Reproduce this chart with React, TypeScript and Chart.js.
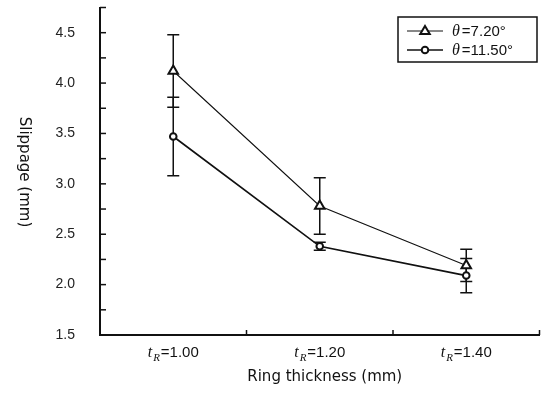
import React, { useEffect, useRef } from "react";
import { Chart, registerables } from "chart.js";

Chart.register(...registerables);

const categories = ["1.00", "1.20", "1.40"];
const seriesNames = ["7.20°", "11.50°"];
const theta720 = [4.12, 2.78, 2.19];
const err720 = [0.36, 0.28, 0.16];
const theta1150 = [3.47, 2.38, 2.09];
const err1150 = [0.39, 0.04, 0.17];
const yMin = 1.5;
const yMax = 4.75;
const yStep = 0.25;
const yTitle = "Slippage (mm)";
const xTitle = "Ring thickness (mm)";

const SANS = "'Liberation Sans', Arial, sans-serif";
const TITLE_FONT = "'DejaVu Sans', sans-serif";
const SERIF_IT = "italic 16px 'Liberation Serif', 'Times New Roman', serif";

function drawMarker(ctx: CanvasRenderingContext2D, kind: string, x: number, y: number) {
  ctx.save();
  ctx.lineWidth = 2;
  ctx.strokeStyle = "#111";
  ctx.fillStyle = "#fff";
  ctx.beginPath();
  if (kind === "triangle") {
    const r = 5;
    ctx.moveTo(x, y - r);
    ctx.lineTo(x + r * 0.95, y + r * 0.6);
    ctx.lineTo(x - r * 0.95, y + r * 0.6);
    ctx.closePath();
  } else {
    ctx.arc(x, y, 3.3, 0, Math.PI * 2);
  }
  ctx.fill();
  ctx.stroke();
  ctx.restore();
}

const decorPlugin = {
  id: "decor",
  beforeDraw(chart: any) {
    const ctx = chart.ctx;
    ctx.save();
    ctx.fillStyle = "#fff";
    ctx.fillRect(0, 0, chart.width, chart.height);
    ctx.restore();
  },
  beforeDatasetsDraw(chart: any) {
    const ctx = chart.ctx;
    const xs = chart.scales.x;
    const ys = chart.scales.y;
    const sets = [
      { v: theta720, e: err720 },
      { v: theta1150, e: err1150 },
    ];
    ctx.save();
    ctx.strokeStyle = "#111";
    ctx.lineWidth = 1.5;
    sets.forEach((s) => {
      s.v.forEach((val, i) => {
        const x = xs.getPixelForValue(i);
        const yt = ys.getPixelForValue(val + s.e[i]);
        const yb = ys.getPixelForValue(val - s.e[i]);
        ctx.beginPath();
        ctx.moveTo(x, yt);
        ctx.lineTo(x, yb);
        ctx.moveTo(x - 6, yt);
        ctx.lineTo(x + 6, yt);
        ctx.moveTo(x - 6, yb);
        ctx.lineTo(x + 6, yb);
        ctx.stroke();
      });
    });
    ctx.restore();
  },
  afterDraw(chart: any) {
    const ctx = chart.ctx;
    const xs = chart.scales.x;
    const ys = chart.scales.y;
    const area = chart.chartArea;
    ctx.save();
    ctx.strokeStyle = "#111";
    ctx.lineWidth = 1.5;
    ys.ticks.forEach((t: any) => {
      const y = ys.getPixelForValue(t.value);
      ctx.beginPath();
      ctx.moveTo(area.left, y);
      ctx.lineTo(area.left + 6, y);
      ctx.stroke();
    });
    for (let i = 1; i <= categories.length; i++) {
      const x = i === categories.length ? area.right : xs.getPixelForValue(i - 0.5);
      ctx.beginPath();
      ctx.moveTo(x, area.bottom);
      ctx.lineTo(x, area.bottom - 5);
      ctx.stroke();
    }
    ctx.fillStyle = "#111";
    ctx.textBaseline = "alphabetic";
    categories.forEach((c, i) => {
      const cx = xs.getPixelForValue(i);
      const base = area.bottom + 22;
      ctx.font = SERIF_IT;
      const wt = ctx.measureText("t").width;
      ctx.font = "italic 11px 'Liberation Serif', serif";
      const wr = ctx.measureText("R").width;
      ctx.font = `15px ${SANS}`;
      const wv = ctx.measureText("=" + c).width;
      const total = wt + 1 + wr + 1 + wv;
      let x = cx - total / 2;
      ctx.textAlign = "left";
      ctx.font = SERIF_IT;
      ctx.fillText("t", x, base);
      x += wt + 1;
      ctx.font = "italic 11px 'Liberation Serif', serif";
      ctx.fillText("R", x, base + 4);
      x += wr + 1;
      ctx.font = `15px ${SANS}`;
      ctx.fillText("=" + c, x, base);
    });
    ctx.font = `15px ${TITLE_FONT}`;
    ctx.textAlign = "center";
    ctx.textBaseline = "middle";
    ctx.fillText(xTitle, (area.left + area.right) / 2 + 5, 377);
    ctx.save();
    ctx.translate(24, 172);
    ctx.rotate(Math.PI / 2);
    ctx.fillText(yTitle, 0, 0);
    ctx.restore();
    const lx = 398, ly = 17, lw = 139, lh = 45;
    ctx.lineWidth = 1.5;
    ctx.strokeRect(lx, ly, lw, lh);
    const kinds = ["triangle", "circle"];
    const widths = [1, 1.6];
    seriesNames.forEach((name, i) => {
      const y = ly + 14 + i * 19;
      ctx.lineWidth = widths[i];
      ctx.beginPath();
      ctx.moveTo(407, y);
      ctx.lineTo(443, y);
      ctx.stroke();
      drawMarker(ctx, kinds[i], 425, y);
      ctx.textAlign = "left";
      ctx.textBaseline = "middle";
      ctx.font = SERIF_IT;
      ctx.fillText("θ", 452, y + 1);
      const wt = ctx.measureText("θ").width;
      ctx.font = `15px ${SANS}`;
      ctx.fillText("=" + name, 452 + wt + 2, y + 1);
    });
    ctx.restore();
  },
};

export default function App() {
  const ref = useRef<HTMLCanvasElement | null>(null);
  useEffect(() => {
    document.body.style.margin = "0";
    const canvas = ref.current!;
    const chart = new Chart(canvas, {
      type: "line",
      data: {
        labels: categories,
        datasets: [
          {
            label: seriesNames[0],
            data: theta720,
            borderColor: "#111",
            borderWidth: 1.1,
            pointStyle: "triangle",
            pointRadius: 5.5,
            pointBorderWidth: 2,
            pointBackgroundColor: "#fff",
            pointBorderColor: "#111",
            tension: 0,
          },
          {
            label: seriesNames[1],
            data: theta1150,
            borderColor: "#111",
            borderWidth: 1.7,
            pointStyle: "circle",
            pointRadius: 3.3,
            pointBorderWidth: 2,
            pointBackgroundColor: "#fff",
            pointBorderColor: "#111",
            tension: 0,
          },
        ],
      },
      options: {
        responsive: false,
        animation: false,
        layout: { padding: { top: 5, right: 2, left: 0, bottom: 0 } },
        plugins: { legend: { display: false }, tooltip: { enabled: false } },
        scales: {
          x: {
            type: "category",
            offset: true,
            grid: { display: false },
            border: { display: true, color: "#111", width: 2 },
            ticks: { display: false },
            afterFit: (s: any) => {
              s.height = 70;
              s.paddingLeft = 0;
              s.paddingRight = 0;
            },
          },
          y: {
            min: yMin,
            max: yMax,
            grid: { display: false },
            border: { display: true, color: "#111", width: 2 },
            ticks: {
              stepSize: yStep,
              padding: 17,
              color: "#222",
              font: { family: SANS, size: 14 },
              callback: (v: any) => (Math.abs((v * 2) % 1) < 1e-6 ? Number(v).toFixed(1) : ""),
            },
            afterFit: (s: any) => {
              s.width = 100;
              s.paddingTop = 0;
              s.paddingBottom = 0;
            },
          },
        },
      },
      plugins: [decorPlugin],
    });
    return () => chart.destroy();
  }, []);
  return <canvas ref={ref} width={547} height={405} style={{ display: "block" }} />;
}
